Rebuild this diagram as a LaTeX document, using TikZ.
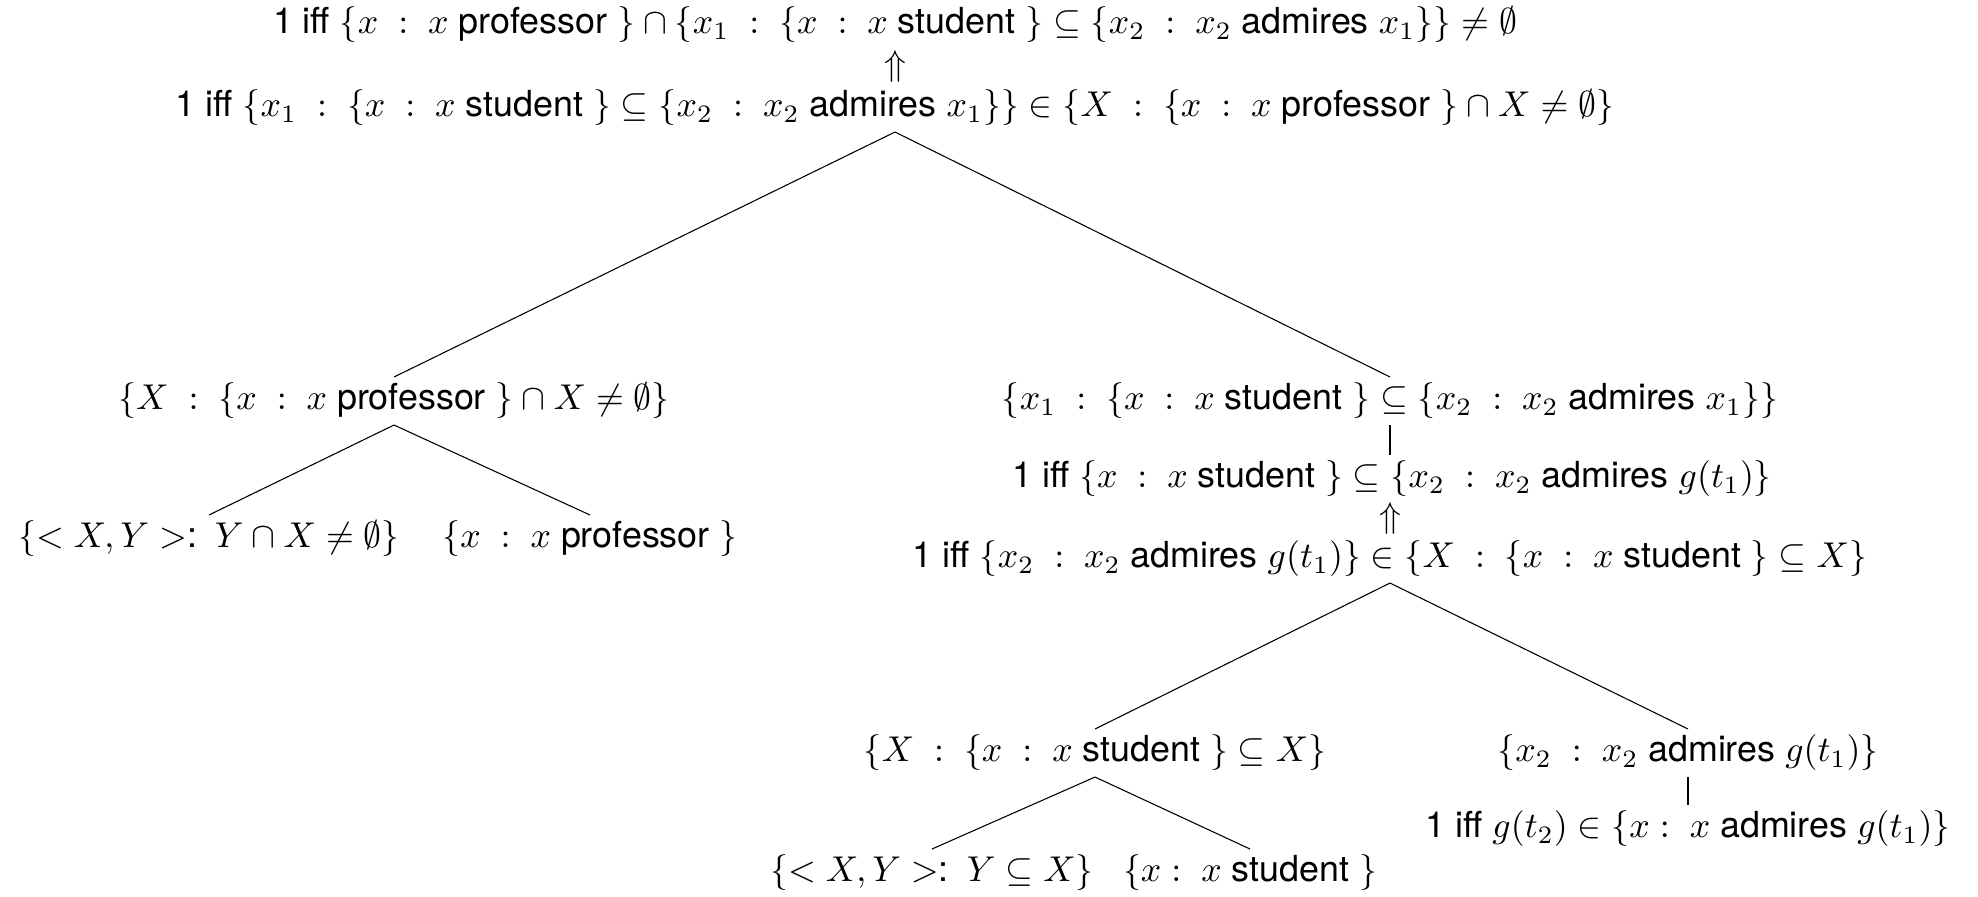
\documentclass[tikz,border=0pt]{standalone}
\usepackage{fontspec}
\setmainfont{TeX Gyre Heros}
\usetikzlibrary{positioning,calc}

\begin{document}
\begin{tikzpicture}[
    x=0.279pt, y=-0.279pt,
    every node/.style={inner xsep=0pt, inner ysep=1.5pt},
    term/.style={anchor=center},
    branch/.style={draw, line width=0.3pt},
]
\useasboundingbox (0,0) rectangle (1978,896);

% ---- Top: whole sentence ----
\node[term] (top) at (895,25) {1 iff $\{x\ :\ x$ professor $\}\cap\{x_1\ :\ \{x\ :\ x$ student $\}\subseteq\{x_2\ :\ x_2$ admires $x_1\}\}\neq\emptyset$};
\node[term] (root) at (895,108) {1 iff $\{x_1\ :\ \{x\ :\ x$ student $\}\subseteq\{x_2\ :\ x_2$ admires $x_1\}\}\in\{X\ :\ \{x\ :\ x$ professor $\}\cap X\neq\emptyset\}$};
\node (up1) at ($(top)!0.5!(root)$) {$\Uparrow$};

% ---- Left: subject ----
\node[term] (left) at (394,401) {$\{X\ :\ \{x\ :\ x$ professor $\}\cap X\neq\emptyset\}$};
\node[term] (leftA) at (209,539) {$\{<X,Y>$:\enspace$Y\cap X\neq\emptyset\}$};
\node[term] (leftB) at (590,539) {$\{x\ :\ x$ professor $\}$};

% ---- Right: predicate ----
\node[term] (right) at (1390,401) {$\{x_1\ :\ \{x\ :\ x$ student $\}\subseteq\{x_2\ :\ x_2$ admires $x_1\}\}$};
\node[term] (rstep) at (1392,479) {1 iff $\{x\ :\ x$ student $\}\subseteq\{x_2\ :\ x_2$ admires $g(t_1)\}$};
\node[term] (rroot) at (1390,559) {1 iff $\{x_2\ :\ x_2$ admires $g(t_1)\}\in\{X\ :\ \{x\ :\ x$ student $\}\subseteq X\}$};
\node (up2) at (right |- {$(rstep)!0.5!(rroot)$}) {$\Uparrow$};

\node[term] (rl) at (1095,753) {$\{X\ :\ \{x\ :\ x$ student $\}\subseteq X\}$};
\node[term] (rr) at (1688,753) {$\{x_2\ :\ x_2$ admires $g(t_1)\}$};
\node[term] (rrstep) at (1688,829) {1 iff $g(t_2)\in\{x :\ x$ admires $g(t_1)\}$};

\node[term] (rlA) at (932,873) {$\{<X,Y>$:\enspace$Y\subseteq X\}$};
\node[term] (rlB) at (1250,873) {$\{x :\ x$ student $\}$};

% ---- Branches ----
\draw[branch] (root.south) -- (left.north);
\draw[branch] (root.south) -- (right.north);
\draw[branch] (left.south) -- (leftA.north);
\draw[branch] (left.south) -- (leftB.north);
\draw[branch] (right.south) -- (right.south |- rstep.north);
\draw[branch] (rroot.south) -- (rl.north);
\draw[branch] (rroot.south) -- (rr.north);
\draw[branch] (rr.south) -- (rr.south |- rrstep.north);
\draw[branch] (rl.south) -- (rlA.north);
\draw[branch] (rl.south) -- (rlB.north);

\end{tikzpicture}
\end{document}
